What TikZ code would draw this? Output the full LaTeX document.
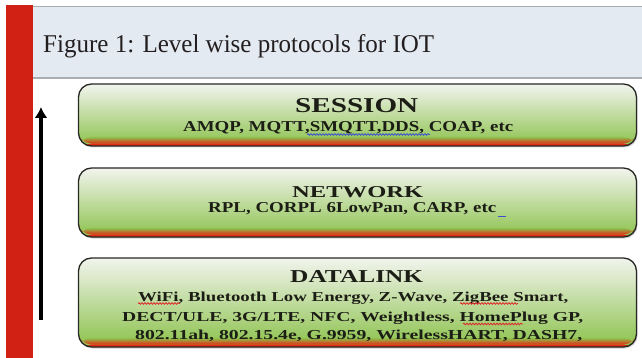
\documentclass[tikz,border=0pt]{standalone}
\usepackage{fontspec}
\usepackage{graphicx}
\setmainfont{Liberation Serif}
\usetikzlibrary{arrows.meta,shadows,decorations.pathmorphing}

\definecolor{bandred}{RGB}{208,33,20}
\definecolor{headbg}{RGB}{228,234,241}
\definecolor{headrule}{RGB}{170,174,178}
\definecolor{titleink}{RGB}{35,31,32}
\definecolor{boxedge}{RGB}{40,40,36}
\definecolor{boxtop}{RGB}{242,244,238}
\definecolor{boxmid}{RGB}{206,224,180}
\definecolor{boxgreen}{RGB}{140,194,76}
\definecolor{boxred}{RGB}{226,44,22}
\definecolor{boxink}{RGB}{28,30,22}
\definecolor{spellred}{RGB}{222,40,40}
\definecolor{spellblue}{RGB}{60,80,205}

\newcommand{\fitText}[3]{\resizebox{#1}{#2}{#3}}

\tikzset{
  layerbox/.style={draw=boxedge, line width=1.3pt, rounded corners=13pt,
    minimum width=558pt, inner sep=0pt,
    drop shadow={opacity=0.35, shadow xshift=1pt, shadow yshift=-1.5pt},
    path picture={
      \shade[top color=boxtop, middle color=boxmid, bottom color=boxgreen]
        (path picture bounding box.north west) rectangle (path picture bounding box.south east);
      \shade[top color=boxgreen, bottom color=boxred]
        ([yshift=9pt]path picture bounding box.south west) rectangle ([yshift=2.5pt]path picture bounding box.south east);
      \fill[boxred] ([yshift=2.5pt]path picture bounding box.south west) rectangle (path picture bounding box.south east);
    }},
  layertext/.style={anchor=base west, inner sep=0pt, text=boxink},
  spellmark/.style={line width=0.8pt, decorate,
    decoration={snake, segment length=3pt, amplitude=0.8pt}},
}

\begin{document}
\begin{tikzpicture}[x=1pt,y=-1pt]
\useasboundingbox (0,0) rectangle (642,358);
\fill[white] (0,0) rectangle (642,358);

% caption bar
\fill[headbg] (33,6) rectangle (642,78);
\draw[headrule, line width=1.6pt] (33,6.5) -- (642,6.5);
\draw[headrule, line width=1.6pt] (33,78) -- (642,78);
\fill[bandred] (6,5) rectangle (33,358);
\node[anchor=base west, inner sep=0pt, text=titleink] (caption) at (43,53)
  {\fitText{391pt}{18pt}{Figure 1: Level wise protocols for IOT}};

% layers
\node[layerbox, minimum height=62pt] (sessionBox) at (357.5,115) {};
\node[layerbox, minimum height=69pt] (networkBox) at (357.5,202.5) {};
\node[layerbox, minimum height=89pt] (datalinkBox) at (357.5,302.5) {};

\node[layertext] (sessionTitle) at (295,113) {\fitText{123pt}{14pt}{\bfseries SESSION}};
\node[layertext] (sessionProto) at (183,132) {\fitText{330pt}{10pt}{\bfseries AMQP, MQTT,SMQTT,DDS, COAP, etc}};

\node[layertext] (networkTitle) at (292,198) {\fitText{131pt}{11pt}{\bfseries NETWORK}};
\node[layertext] (networkProto) at (208,212) {\fitText{288pt}{10pt}{\bfseries RPL, CORPL 6LowPan, CARP, etc}};

\node[layertext] (datalinkTitle) at (290,282) {\fitText{133pt}{12pt}{\bfseries DATALINK}};
\node[layertext] (datalinkOne) at (138,301) {\fitText{430pt}{9.5pt}{\bfseries WiFi, Bluetooth Low Energy, Z-Wave, ZigBee Smart,}};
\node[layertext] (datalinkTwo) at (122,321) {\fitText{461pt}{9.5pt}{\bfseries DECT/ULE, 3G/LTE, NFC, Weightless, HomePlug GP,}};
\node[layertext] (datalinkThree) at (135,339) {\fitText{447pt}{9.5pt}{\bfseries 802.11ah, 802.15.4e, G.9959, WirelessHART, DASH7,}};

% spell-check marks
\draw[spellmark, spellblue] (307,134.5) -- (430,134.5);
\draw[spellblue, line width=1pt] (498,216) -- (506,216);
\draw[spellmark, spellred] (138,303.5) -- (180,303.5);
\draw[spellmark, spellred] (460,303.5) -- (518,303.5);
\draw[spellmark, spellred] (463,324) -- (523,324);

% upward arrow
\coordinate (arrowFoot) at (41,320);
\coordinate (arrowTip) at (41,107);
\draw[line width=3.2pt, -{Latex[length=11pt,width=13pt]}] (arrowFoot) -- (arrowTip);
\end{tikzpicture}
\end{document}
